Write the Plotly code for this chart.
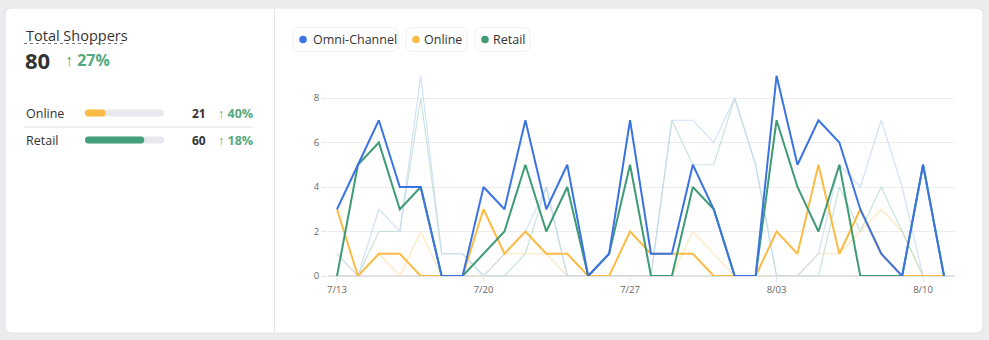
import plotly.graph_objects as go

# ---------------- data ----------------
dates = ["2024-07-13", "2024-07-14", "2024-07-15", "2024-07-16", "2024-07-17", "2024-07-18",
         "2024-07-19", "2024-07-20", "2024-07-21", "2024-07-22", "2024-07-23", "2024-07-24",
         "2024-07-25", "2024-07-26", "2024-07-27", "2024-07-28", "2024-07-29", "2024-07-30",
         "2024-07-31", "2024-08-01", "2024-08-02", "2024-08-03", "2024-08-04", "2024-08-05",
         "2024-08-06", "2024-08-07", "2024-08-08", "2024-08-09", "2024-08-10", "2024-08-11"]

omni = [3, 5, 7, 4, 4, 0, 0, 4, 3, 7, 3, 5, 0, 1, 7, 1, 1, 5, 3, 0, 0, 9, 5, 7, 6, 3, 1, 0, 5, 0]
online = [3, 0, 1, 1, 0, 0, 0, 3, 1, 2, 1, 1, 0, 0, 2, 1, 1, 1, 0, 0, 0, 2, 1, 5, 1, 3, 1, 0, 0, 0]
retail = [0, 5, 6, 3, 4, 0, 0, 1, 2, 5, 2, 4, 0, 1, 5, 0, 0, 4, 3, 0, 0, 7, 4, 2, 5, 0, 0, 0, 5, 0]

prev_omni = [1, 0, 3, 2, 9, 1, 1, 0, 1, 2, 4, 0, 0, 0, 0, 0, 7, 7, 6, 8, 5, 0, 0, 1, 5, 4, 7, 4, 0, 0]
prev_online = [1, 0, 1, 0, 2, 0, 0, 0, 1, 1, 1, 0, 0, 0, 0, 0, 0, 2, 1, 0, 0, 0, 0, 1, 1, 2, 3, 2, 0, 0]
prev_retail = [0, 0, 2, 2, 8, 1, 1, 0, 0, 1, 4, 0, 0, 0, 0, 0, 7, 5, 5, 8, 5, 0, 0, 0, 4, 2, 4, 2, 0, 0]

series_names = ["Omni-Channel", "Online", "Retail"]
series_colors = ["#3b74e2", "#fcbb45", "#3e9b74"]
prev_colors = ["#c4d8f8", "#fde0a6", "#b6dccb"]

x_tick_vals = ["2024-07-13", "2024-07-20", "2024-07-27", "2024-08-03", "2024-08-10"]
x_tick_text = ["7/13", "7/20", "7/27", "8/03", "8/10"]
y_tick_vals = [0, 2, 4, 6, 8]

kpi_title = "Total Shoppers"
kpi_total = 80
kpi_total_change = "↑ 27%"
kpi_labels = ["Online", "Retail"]
kpi_values = [21, 60]
kpi_changes = ["↑ 40%", "↑ 18%"]
kpi_bar_colors = ["#fcbb45", "#43a07a"]

# ---------------- layout helpers (pixel -> paper) ----------------
FW, FH = 989, 340
L, R, T, B = 328, 955, 70, 276
W, H = R - L, B - T


def X(p):
    return (p - L) / W


def Y(p):
    return (B - p) / H


def rr(x0, y0, x1, y1, r):
    pts = [
        ("M", [(x0 + r, y0)]), ("L", [(x1 - r, y0)]), ("Q", [(x1, y0), (x1, y0 + r)]),
        ("L", [(x1, y1 - r)]), ("Q", [(x1, y1), (x1 - r, y1)]), ("L", [(x0 + r, y1)]),
        ("Q", [(x0, y1), (x0, y1 - r)]), ("L", [(x0, y0 + r)]), ("Q", [(x0, y0), (x0 + r, y0)]),
    ]
    s = ""
    for cmd, ps in pts:
        s += cmd + " " + " ".join(f"{X(a):.5f},{Y(b):.5f}" for a, b in ps) + " "
    return s + "Z"


FONT = "Open Sans, Noto Sans, sans-serif"
TXT = "#333333"
GREEN_TXT = "#55a981"

fig = go.Figure()

# previous-period (faded) lines: online, retail, then omni on top
for vals, col in [(prev_online, prev_colors[1]), (prev_retail, prev_colors[2]),
                  (prev_omni, prev_colors[0])]:
    fig.add_trace(go.Scatter(x=dates, y=vals, mode="lines", line=dict(color=col, width=1.2),
                             opacity=0.75, showlegend=False, hoverinfo="skip"))

# current lines (Online, Retail, then Omni on top)
for vals, name, col in [(online, series_names[1], series_colors[1]),
                        (retail, series_names[2], series_colors[2]),
                        (omni, series_names[0], series_colors[0])]:
    fig.add_trace(go.Scatter(x=dates, y=vals, mode="lines", name=name,
                             line=dict(color=col, width=2), showlegend=False))

shapes = []
annotations = []

# card
shapes.append(dict(type="path", path=rr(5, 8, 983, 333, 7), xref="paper", yref="paper",
                   fillcolor="white", line=dict(color="#e3e4e8", width=1), layer="below"))
# divider
shapes.append(dict(type="line", xref="paper", yref="paper", x0=X(274.5), x1=X(274.5),
                   y0=Y(8.5), y1=Y(332.5), line=dict(color="#e2e6ec", width=1), layer="below"))

# ---- left KPI panel ----
annotations.append(dict(x=X(24), y=Y(35), xref="paper", yref="paper", text=kpi_title,
                        showarrow=False, xanchor="left", yanchor="middle",
                        font=dict(family=FONT, size=14.5, color=TXT)))
shapes.append(dict(type="line", xref="paper", yref="paper", x0=X(24), x1=X(126),
                   y0=Y(43.5), y1=Y(43.5), line=dict(color="#777777", width=1, dash="dot")))
annotations.append(dict(x=X(23), y=Y(60), xref="paper", yref="paper", text=f"<b>{kpi_total}</b>",
                        showarrow=False, xanchor="left", yanchor="middle",
                        font=dict(family=FONT, size=22, color=TXT)))
annotations.append(dict(x=X(63), y=Y(60), xref="paper", yref="paper",
                        text=f"<b>{kpi_total_change}</b>",
                        showarrow=False, xanchor="left", yanchor="middle",
                        font=dict(family=FONT, size=16, color=GREEN_TXT)))

row_y = [113, 140]
track_x0, track_x1 = 85, 164
for i, (lab, val, chg, bc) in enumerate(zip(kpi_labels, kpi_values, kpi_changes, kpi_bar_colors)):
    yy = row_y[i]
    annotations.append(dict(x=X(24), y=Y(yy), xref="paper", yref="paper", text=lab,
                            showarrow=False, xanchor="left", yanchor="middle",
                            font=dict(family=FONT, size=12.5, color=TXT)))
    shapes.append(dict(type="path", path=rr(track_x0, yy - 3.5, track_x1, yy + 3.5, 3.5),
                       xref="paper", yref="paper", fillcolor="#e8e9ee", line=dict(width=0)))
    fill_x1 = track_x0 + (track_x1 - track_x0) * val / kpi_total
    shapes.append(dict(type="path", path=rr(track_x0, yy - 3.5, fill_x1, yy + 3.5, 3.5),
                       xref="paper", yref="paper", fillcolor=bc, line=dict(width=0)))
    annotations.append(dict(x=X(208), y=Y(yy), xref="paper", yref="paper", text=f"<b>{val}</b>",
                            showarrow=False, xanchor="right", yanchor="middle",
                            font=dict(family=FONT, size=12, color=TXT)))
    annotations.append(dict(x=X(216), y=Y(yy), xref="paper", yref="paper", text=f"<b>{chg}</b>",
                            showarrow=False, xanchor="left", yanchor="middle",
                            font=dict(family=FONT, size=12.5, color=GREEN_TXT)))
shapes.append(dict(type="line", xref="paper", yref="paper", x0=X(24), x1=X(254),
                   y0=Y(127), y1=Y(127), line=dict(color="#dfe1e5", width=1)))

# ---- legend pills ----
pills = [(293, 398, 303, 312), (406, 467, 416, 423), (475, 530, 485, 492)]
for (p0, p1, dot_x, tx), name, col in zip(pills, series_names, series_colors):
    shapes.append(dict(type="path", path=rr(p0, 27.5, p1, 51.5, 6), xref="paper", yref="paper",
                       fillcolor="white", line=dict(color="#f0f1f3", width=1)))
    shapes.append(dict(type="circle", xref="paper", yref="paper",
                       x0=X(dot_x - 3.8), x1=X(dot_x + 3.8), y0=Y(39.5 - 3.8), y1=Y(39.5 + 3.8),
                       fillcolor=col, line=dict(width=0)))
    annotations.append(dict(x=X(tx - 1), y=Y(39.5), xref="paper", yref="paper", text=name,
                            showarrow=False, xanchor="left", yanchor="middle",
                            font=dict(family=FONT, size=12.5, color=TXT)))

fig.update_layout(
    width=FW, height=FH,
    margin=dict(l=L, r=FW - R, t=T, b=FH - B, pad=0),
    paper_bgcolor="#ececee",
    plot_bgcolor="rgba(0,0,0,0)",
    showlegend=False,
    shapes=shapes,
    annotations=annotations,
    font=dict(family=FONT, color="#666666"),
    xaxis=dict(
        type="date",
        range=["2024-07-12 13:40", "2024-08-11 12:36"],
        tickvals=x_tick_vals, ticktext=x_tick_text,
        showgrid=False, zeroline=False, showline=False,
        ticks="outside", ticklen=5, tickcolor="#e6e6e6",
        tickfont=dict(family=FONT, size=9.5, color="#666666"),
        fixedrange=True,
    ),
    yaxis=dict(
        range=[0, (B - T) / 22.25],
        tickvals=y_tick_vals,
        showgrid=True, gridcolor="#ececec", gridwidth=1,
        zeroline=True, zerolinecolor="#e2e2e2", zerolinewidth=2,
        showline=False,
        ticks="outside", ticklen=6, tickcolor="#e8e8e8",
        tickfont=dict(family=FONT, size=9.5, color="#666666"),
        fixedrange=True,
    ),
)

fig.write_html("out.html")
